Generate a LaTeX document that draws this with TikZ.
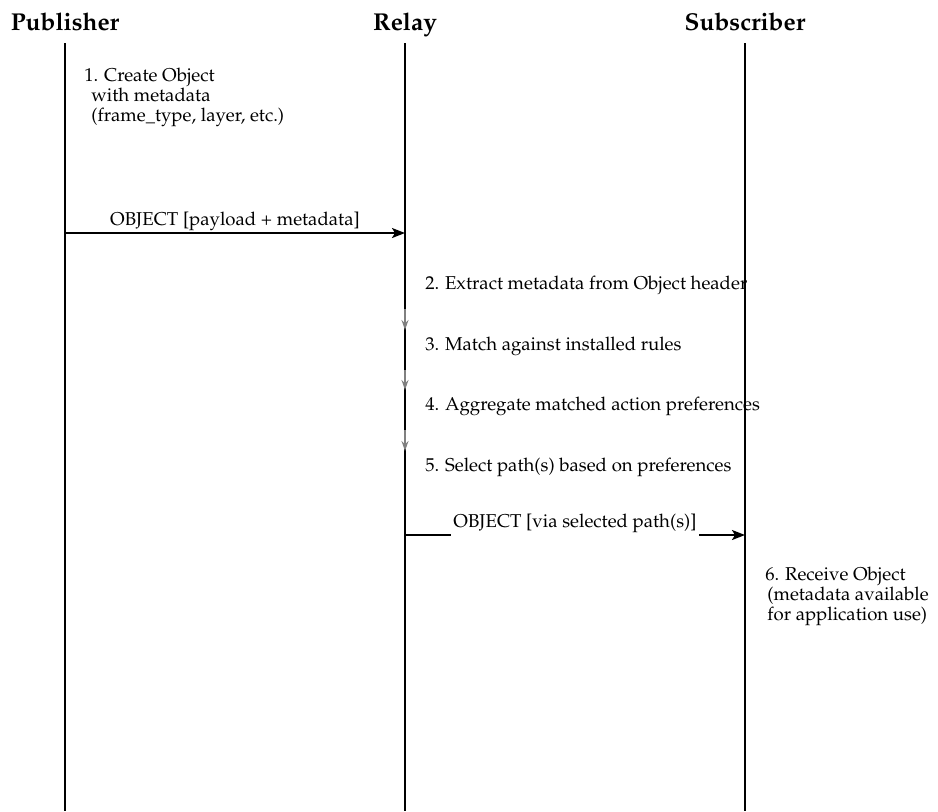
\documentclass[tikz,border=0pt]{standalone}
\usepackage[T1]{fontenc}
\usepackage{palatino}
\usetikzlibrary{arrows.meta,positioning}

\begin{document}
\begin{tikzpicture}[x=0.5pt, y=-0.5pt,
    actor/.style={font=\bfseries\fontsize{12.2}{14}\selectfont, anchor=base, text depth=3pt, inner sep=3.5pt},
    life/.style={line width=1pt},
    msg/.style={line width=1pt, -{Stealth[length=6.5pt, width=5pt, inset=1.5pt]}},
    tag/.style={font=\fontsize{9.3}{10}\selectfont, midway, anchor=base, yshift=4pt, inner xsep=1pt, inner ysep=3pt},
    note/.style={font=\fontsize{9.3}{10}\selectfont, align=left, anchor=base west, inner sep=0pt},
    stepflow/.style={line width=0.75pt, gray, -{Stealth[length=5pt, width=3.5pt]}}]
    \useasboundingbox (0,0) rectangle (938,811);

    \node[actor] (pub) at (65,30) {Publisher};
    \node[actor] (relay) at (405,30) {Relay};
    \node[actor] (sub) at (745,30) {Subscriber};
    \coordinate (pubend) at (65,811);
    \coordinate (relayend) at (405,811);
    \coordinate (subend) at (745,811);
    \draw[life] (pub) -- (pubend);
    \draw[life] (relay) -- (relayend);
    \draw[life] (sub) -- (subend);

    % base of a multi-line note is its last line
    \node[note] (s1) at (84,121) {1. Create Object\\\hspace{3.5pt}with metadata\\\hspace{3.5pt}(frame\_type, layer, etc.)};

    \coordinate (m1a) at (65,233);
    \coordinate (m1b) at (405,233);
    \draw[msg] (m1a) -- node[tag] {OBJECT [payload + metadata]} (m1b);

    \node[note] (s2) at (425,289) {2. Extract metadata from Object header};
    \node[note] (s3) at (425,350) {3. Match against installed rules};
    \node[note] (s4) at (425,410) {4. Aggregate matched action preferences};
    \node[note] (s5) at (425,471) {5. Select path(s) based on preferences};
    \foreach \a/\b in {s2/s3, s3/s4, s4/s5}
        \draw[stepflow] ([yshift=-10pt]relay |- \a.base) -- ([yshift=10pt]relay |- \b.base);

    \coordinate (m2a) at (405,535);
    \coordinate (m2b) at (745,535);
    \draw[msg] (m2a) -- node[tag, fill=white] {OBJECT [via selected path(s)]} (m2b);

    \node[note] (s6) at (765,620) {6. Receive Object\\\hspace{1pt}(metadata available\\\hspace{1pt}for application use)};
\end{tikzpicture}
\end{document}
